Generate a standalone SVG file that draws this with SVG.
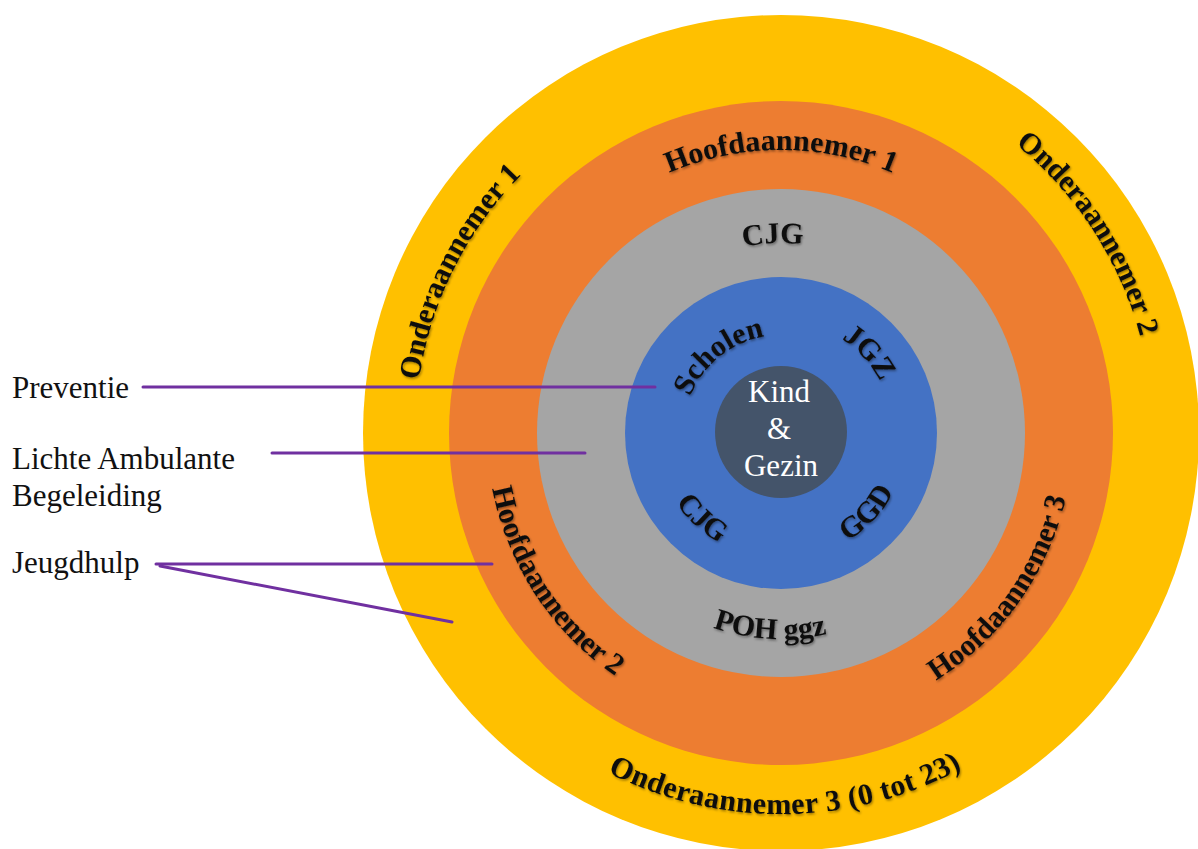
<svg xmlns="http://www.w3.org/2000/svg" xmlns:xlink="http://www.w3.org/1999/xlink" width="1198" height="849" viewBox="0 0 1198 849">
<style>
.ring{stroke:none}
.lbl{font-family:"Liberation Serif","Times New Roman",serif;font-weight:bold;font-size:30px;fill:#111;filter:url(#sh)}
.side{font-family:"Liberation Serif","Times New Roman",serif;font-size:31px;fill:#111}
.core{font-family:"Liberation Serif","Times New Roman",serif;font-size:31px;fill:#fff;text-anchor:middle}
.con{stroke:#7030A0;stroke-width:3;fill:none;stroke-linecap:round}
</style>
<defs>
<filter id="sh" x="-20%" y="-20%" width="140%" height="140%">
<feDropShadow dx="1" dy="1.5" stdDeviation="1.2" flood-color="#000" flood-opacity="0.4"/>
</filter>
<path id="pH1" d="M535.9,291.5 A283,283 0 0,1 1026.1,291.5"/>
<path id="pO1" d="M475.5,634.5 A366,366 0 0,1 759.3,67.7"/>
<path id="pO2" d="M761.5,61.5 A372,372 0 0,1 1112.5,601.9"/>
<path id="pO3" d="M453.4,627.5 A381,381 0 0,0 1113.3,619.5"/>
<path id="pH2" d="M518.3,300.9 A294,294 0 0,0 797.9,726.5"/>
<path id="pH3" d="M753.5,723.7 A292,292 0 0,0 1046.5,311.4"/>
<path id="pCJG1" d="M612.6,345.0 A190,190 0 0,1 941.4,331.2"/>
<path id="pPOH" d="M597.1,525.9 A206,206 0 0,0 953.4,545.8"/>
<path id="pSch" d="M684.2,448.3 A98,98 0 0,1 816.1,341.5"/>
<path id="pJGZ" d="M757.1,323.6 A112,112 0 0,1 887.7,467.0"/>
<path id="pCJG2" d="M658.2,404.9 A126,126 0 0,0 818.0,553.4"/>
<path id="pGGD" d="M752.6,556.8 A127,127 0 0,0 902.4,395.7"/>
</defs>
<rect width="1198" height="849" fill="#fff"/>

<g id="onderaannemers">
<circle class="ring" cx="781" cy="433" r="418" fill="#FFC000"/>
<text class="lbl"><textPath href="#pO1" startOffset="50%" text-anchor="middle">Onderaannemer 1</textPath></text>
<text class="lbl"><textPath href="#pO2" startOffset="50%" text-anchor="middle">Onderaannemer 2</textPath></text>
<text class="lbl" letter-spacing="0.5"><textPath href="#pO3" startOffset="50%" text-anchor="middle">Onderaannemer 3 (0 tot 23)</textPath></text>
</g>

<g id="hoofdaannemers">
<circle class="ring" cx="781" cy="433" r="332" fill="#ED7D31"/>
<text class="lbl"><textPath href="#pH1" startOffset="50%" text-anchor="middle">Hoofdaannemer 1</textPath></text>
<text class="lbl"><textPath href="#pH2" startOffset="50%" text-anchor="middle">Hoofdaannemer 2</textPath></text>
<text class="lbl"><textPath href="#pH3" startOffset="50%" text-anchor="middle">Hoofdaannemer 3</textPath></text>
</g>

<g id="lichte-ambulante">
<circle class="ring" cx="781" cy="433" r="244" fill="#A5A5A5"/>
<text class="lbl"><textPath href="#pCJG1" startOffset="50%" text-anchor="middle">CJG</textPath></text>
<text class="lbl" font-size="29"><textPath href="#pPOH" startOffset="50%" text-anchor="middle">POH ggz</textPath></text>
</g>

<g id="preventie">
<circle class="ring" cx="781" cy="433" r="156" fill="#4472C4" stroke="#8FAADC" stroke-width="1.5"/>
<text class="lbl"><textPath href="#pSch" startOffset="50%" text-anchor="middle">Scholen</textPath></text>
<text class="lbl"><textPath href="#pJGZ" startOffset="50%" text-anchor="middle">JGZ</textPath></text>
<text class="lbl"><textPath href="#pCJG2" startOffset="50%" text-anchor="middle">CJG</textPath></text>
<text class="lbl"><textPath href="#pGGD" startOffset="50%" text-anchor="middle">GGD</textPath></text>
</g>

<g id="kind-gezin">
<circle cx="781" cy="432" r="66" fill="#44546A"/>
<text class="core" x="779" y="402">Kind</text>
<text class="core" x="779" y="439">&amp;</text>
<text class="core" x="781" y="476">Gezin</text>
</g>

<g id="labels">
<text class="side" x="12" y="398">Preventie</text>
<text class="side" x="12" y="469">Lichte Ambulante</text>
<text class="side" x="12" y="506">Begeleiding</text>
<text class="side" x="12" y="573">Jeugdhulp</text>
</g>

<g id="connectors">
<line class="con" x1="143" y1="387" x2="655" y2="387"/>
<line class="con" x1="272" y1="453" x2="585" y2="453"/>
<line class="con" x1="156" y1="564" x2="492" y2="564"/>
<line class="con" x1="160" y1="566" x2="452" y2="622"/>
</g>
</svg>
